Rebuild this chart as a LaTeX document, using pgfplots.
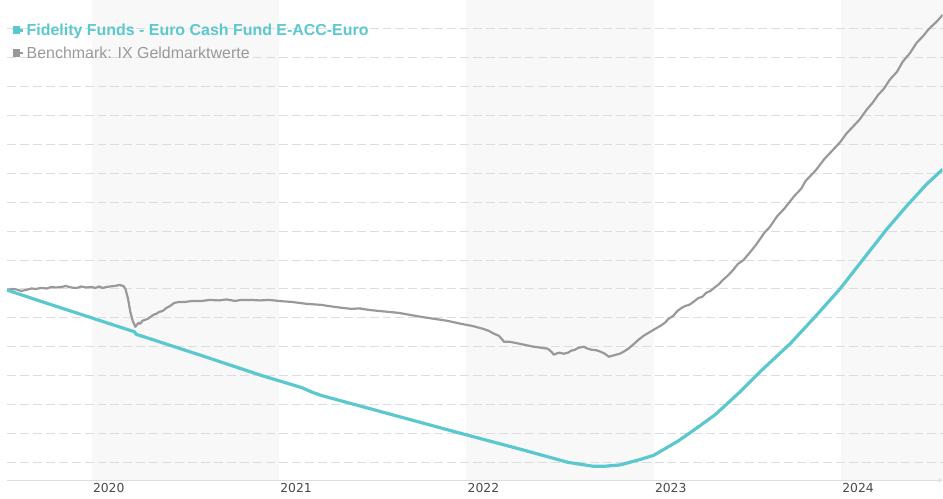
\documentclass[border=0pt]{standalone}
\usepackage{pgfplots}
\pgfplotsset{compat=1.18}
\usepackage{fontspec}
\setmainfont{Liberation Sans}
\newfontfamily\dejavu{DejaVu Sans}
\definecolor{fundc}{HTML}{5BC8CF}
\definecolor{benchc}{HTML}{999999}
\definecolor{bandc}{HTML}{F8F8F8}
\definecolor{gridc}{HTML}{DDDDDD}
\definecolor{tickc}{HTML}{4A4A4A}
\begin{document}
\begin{tikzpicture}
\path (-4pt,-18pt) rectangle (939pt,482pt);
\begin{axis}[
  set layers,
  at={(0pt,0pt)}, anchor=south west,
  scale only axis,
  width=939pt, height=482pt,
  xmin=2019.5479, xmax=2024.5426,
  ymin=0, ymax=482,
  axis x line=bottom,
  axis y line=left,
  y axis line style={draw=none},
  x axis line style={draw=gridc, line width=1pt},
  xtick={2020,2021,2022,2023,2024},
  xticklabels={2020,2021,2022,2023,2024},
  major tick length=0pt,
  xticklabel style={anchor=north west, inner sep=0pt, outer sep=0pt, xshift=1.5pt, yshift=-3.5pt, font=\dejavu\fontsize{12.4}{14}\selectfont, text=tickc},
  ytick={18,47,76,105,134,163,192,221,250,279,308,337,366,395,424,453},
  yticklabels={},
  ymajorgrids,
  grid style={draw=gridc, line width=1pt, dash pattern=on 9pt off 4pt},
  legend style={at={(0.00426,0.955)}, anchor=north west, draw=none, fill=none,
    font=\fontsize{16}{18}\selectfont, row sep=6pt, inner sep=0pt},
  legend cell align=left,
  reverse legend,
  legend image code/.code={\path (0pt,0pt) -- (10.5pt,0pt); \path[#1, draw=none, fill, sharp corners] (0pt,-3.5pt) rectangle (7.5pt,4pt);},
]
% year bands
\addplot[on layer=axis background, draw=none, fill=bandc, forget plot] coordinates {(2020,482) (2021,482)} \closedcycle;
\addplot[on layer=axis background, draw=none, fill=bandc, forget plot] coordinates {(2022,482) (2023,482)} \closedcycle;
\addplot[on layer=axis background, draw=none, fill=bandc, forget plot] coordinates {(2024,482) (2024.5426,482)} \closedcycle;
% benchmark
\addplot[color=benchc, line width=2.2pt, line join=round] coordinates {
(2019.548,191) (2019.575,192) (2019.600,191.5) (2019.625,190) (2019.650,191) (2019.680,192.5) (2019.702,192) (2019.730,193) (2019.760,192.5) (2019.785,194) (2019.810,193.5)
(2019.840,194) (2019.862,195) (2019.890,193.5) (2019.920,193) (2019.945,194.5) (2019.970,193.5) (2020.000,194) (2020.020,193) (2020.040,194.5) (2020.059,193) (2020.080,194) (2020.100,194.5) (2020.125,195)
(2020.149,196) (2020.170,195) (2020.181,192) (2020.195,182) (2020.207,169) (2020.220,160)
(2020.234,154) (2020.250,158) (2020.260,157) (2020.271,160) (2020.285,161) (2020.300,162) (2020.315,164) (2020.330,166) (2020.345,167) (2020.362,169)
(2020.380,170) (2020.400,173) (2020.420,175) (2020.441,178) (2020.470,179) (2020.500,179) (2020.540,180) (2020.590,180) (2020.630,181) (2020.680,180.5) (2020.720,181.5) (2020.766,180)
(2020.800,181) (2020.850,181) (2020.900,180.5) (2020.947,181) (2021.000,180) (2021.030,179.5) (2021.069,179) (2021.110,178) (2021.150,177) (2021.190,176.5) (2021.229,176)
(2021.260,175) (2021.300,174) (2021.340,173) (2021.388,172) (2021.430,172.5) (2021.480,171) (2021.530,170) (2021.585,169) (2021.640,168) (2021.700,166) (2021.760,164) (2021.830,162)
(2021.900,160) (2021.973,157) (2022.030,155) (2022.090,152) (2022.120,150) (2022.149,147) (2022.175,145)
(2022.202,139) (2022.230,139) (2022.260,138) (2022.310,136) (2022.362,134) (2022.400,133) (2022.436,132)
(2022.455,129) (2022.468,126) (2022.485,127.5) (2022.500,128) (2022.520,127) (2022.543,128) (2022.560,130) (2022.580,131) (2022.600,133) (2022.628,134) (2022.650,132) (2022.670,131) (2022.695,130.5)
(2022.718,129) (2022.740,127) (2022.761,124) (2022.780,125) (2022.800,126) (2022.820,127) (2022.840,129) (2022.865,132) (2022.890,136) (2022.920,141) (2022.947,145)
(2023.000,151) (2023.037,155) (2023.060,158) (2023.080,162) (2023.105,165) (2023.128,170) (2023.150,173) (2023.170,175) (2023.190,176) (2023.213,179)
(2023.240,183) (2023.260,184) (2023.280,188) (2023.303,190) (2023.330,194) (2023.350,197) (2023.370,201) (2023.394,205) (2023.420,210) (2023.450,217) (2023.480,221) (2023.516,229)
(2023.550,237) (2023.590,248) (2023.620,254) (2023.660,265) (2023.700,273) (2023.750,285) (2023.790,293) (2023.810,300) (2023.835,305) (2023.870,312) (2023.910,322) (2023.950,330) (2023.995,339)
(2024.030,348) (2024.070,356) (2024.100,362) (2024.138,372) (2024.170,379) (2024.200,387) (2024.230,393) (2024.261,402) (2024.300,410) (2024.330,420) (2024.370,429) (2024.404,439)
(2024.440,446) (2024.470,453) (2024.510,460) (2024.543,467)
};
\addlegendentry{\textcolor{benchc}{Benchmark: IX Geldmarktwerte}}
% fund
\addplot[color=fundc, line width=3.2pt, line join=round] coordinates {
(2019.548,191) (2019.739,179) (2019.952,166) (2020.229,149) (2020.239,146.5) (2020.590,125)
(2020.910,105) (2021.122,93) (2021.176,88.5) (2021.229,85) (2021.601,66) (2021.973,47)
(2022.293,31) (2022.543,18) (2022.681,14) (2022.734,14) (2022.824,15.5) (2022.931,21)
(2023.000,25) (2023.064,32) (2023.128,39) (2023.197,48) (2023.250,55) (2023.330,66) (2023.394,77)
(2023.463,89) (2023.569,109) (2023.649,123) (2023.729,137) (2023.862,164)
(2023.995,192) (2024.120,222) (2024.245,252) (2024.350,275) (2024.457,297) (2024.543,312)
};
\addlegendentry{\textcolor{fundc}{\textbf{Fidelity Funds - Euro Cash Fund E-ACC-Euro}}}
\end{axis}
\end{tikzpicture}
\end{document}
